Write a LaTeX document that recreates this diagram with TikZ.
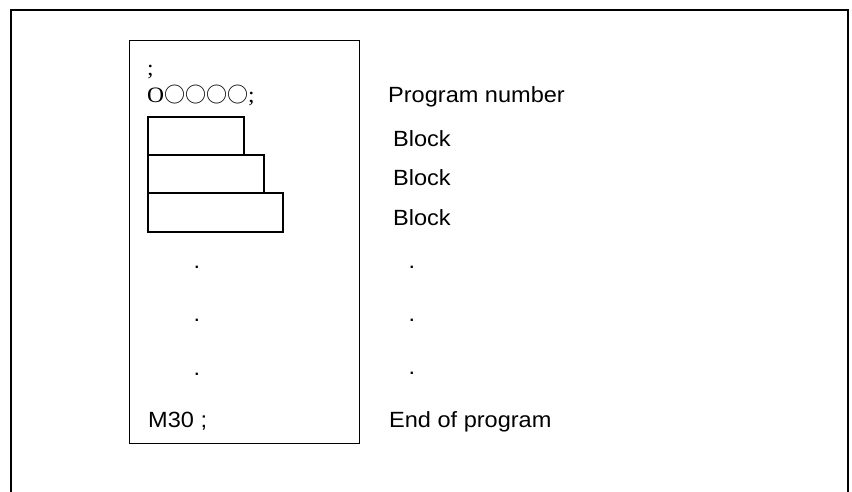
\documentclass[tikz,border=0pt]{standalone}
\usepackage{fontspec}
\setmainfont{Liberation Sans}
\newfontfamily\labelfont{Liberation Sans}[FakeStretch=1.07]
\newfontfamily\codeserif{Liberation Serif}[FakeStretch=1.07]
\newfontfamily\markfont{Noto Sans CJK JP}
\begin{document}
\begin{tikzpicture}[x=1pt,y=-1pt,
  lbl/.style={anchor=base west,inner sep=0pt,font=\labelfont\fontsize{22}{26}\selectfont},
  code/.style={anchor=base west,inner sep=0pt,font=\codeserif\fontsize{22}{26}\selectfont},
  dotmark/.style={anchor=base,inner sep=0pt,font=\labelfont\fontsize{22}{26}\selectfont},
  blockbox/.style={draw,line width=1.3pt,inner sep=0pt}]
  \useasboundingbox (0,0) rectangle (852,491);
  % outer frame, open at the bottom
  \draw[line width=2pt] (11,495) -- (11,10) -- (848,10) -- (848,495);
  % program listing box
  \draw[line width=1pt] (129,40) rectangle (359,443);
  \node[code] (semi) at (147,75) {;};
  \node[code] (onum) at (147,102) {O{\markfont\fontsize{21}{25}\selectfont ○○○○};};
  % block rectangles
  \draw[blockbox] (148,117) rectangle (244,155);
  \draw[blockbox] (148,155) rectangle (264,193);
  \draw[blockbox] (148,193) rectangle (283,232);
  % ellipsis dots
  \node[dotmark] (dl1) at (197,268) {.};
  \node[dotmark] (dl2) at (197,321) {.};
  \node[dotmark] (dl3) at (197,375) {.};
  \node[dotmark] (dr1) at (412,268) {.};
  \node[dotmark] (dr2) at (412,321) {.};
  \node[dotmark] (dr3) at (412,374) {.};
  \node[lbl] (m30) at (148,427) {M30 ;};
  % explanations
  \node[lbl] (pnum) at (388,102) {Program number};
  \node[lbl] (b1) at (393,146.5) {Block};
  \node[lbl] (b2) at (393,185.5) {Block};
  \node[lbl] (b3) at (393,225.5) {Block};
  \node[lbl] (eop) at (389,427) {End of program};
\end{tikzpicture}
\end{document}
